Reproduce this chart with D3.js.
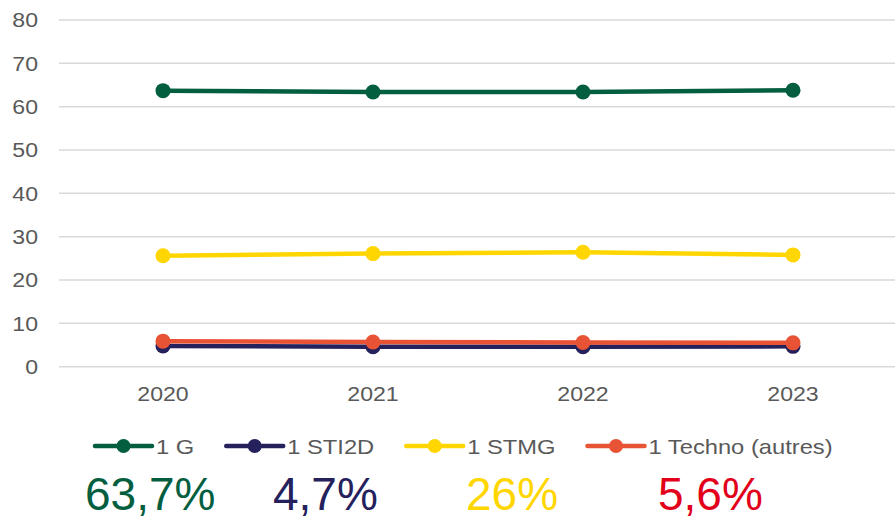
<!DOCTYPE html>
<html>
<head>
<meta charset="utf-8">
<script src="https://cdn.jsdelivr.net/npm/d3@7/dist/d3.min.js"></script>
<style>
  html, body { margin: 0; padding: 0; background: #fff; }
  svg { display: block; font-family: "Liberation Sans", Arial, sans-serif; }
</style>
</head>
<body>
<svg id="chart" width="895" height="516"></svg>
<script>
// data
var years = ["2020", "2021", "2022", "2023"];
var seriesNames = ["1 G", "1 STI2D", "1 STMG", "1 Techno (autres)"];
var valuesG = [63.7, 63.4, 63.4, 63.8];
var valuesSTI2D = [4.8, 4.6, 4.6, 4.7];
var valuesSTMG = [25.6, 26.1, 26.4, 25.8];
var valuesTechno = [5.9, 5.7, 5.6, 5.5];
var yTicks = [0, 10, 20, 30, 40, 50, 60, 70, 80];
var bigLabels = ["63,7%", "4,7%", "26%", "5,6%"];

var lineColors = ["#035e3f", "#24215c", "#ffd600", "#e95335"];
var bigColors = ["#035e3f", "#24215c", "#ffd600", "#e2001a"];

var allValues = [valuesG, valuesSTI2D, valuesSTMG, valuesTechno];

var svg = d3.select("#chart");
var W = 895;
var plot = { left: 58, right: 898, top: 20, bottom: 366.7 };
var STRETCH = 1.1;   // small texts in the reference are a bit wider than plain Arial
var LEG_STRETCH = 1.13;

var x = d3.scaleBand()
	.domain(years)
	.range([plot.left, plot.right])
	.padding(0);

var y = d3.scaleLinear()
	.domain([0, 80])
	.range([plot.bottom, plot.top]);

var textGrey = "#595959";

// gridlines
svg.append("g")
	.selectAll("line")
	.data(yTicks)
	.join("line")
	.attr("x1", plot.left + 1)
	.attr("x2", W)
	.attr("y1", function(d) { return y(d); })
	.attr("y2", function(d) { return y(d); })
	.attr("stroke", "#d9d9d9")
	.attr("stroke-width", 1.5);

// y axis labels
var yAxis = d3.axisLeft(y).tickValues(yTicks).tickSize(0).tickPadding(0);
var gy = svg.append("g")
	.attr("transform", "translate(38,0)")
	.call(yAxis);
gy.select(".domain").remove();
gy.selectAll("text")
	.attr("fill", textGrey)
	.attr("transform", "scale(" + STRETCH + ",1)")
	.style("font-size", "21px")
	.style("font-family", "Liberation Sans, Arial, sans-serif");

// x axis labels
var xAxis = d3.axisBottom(x).tickSize(0).tickPadding(0);
var gx = svg.append("g")
	.attr("transform", "translate(0,386)")
	.call(xAxis);
gx.select(".domain").remove();
gx.selectAll(".tick text")
	.attr("fill", textGrey)
	.attr("transform", "scale(" + STRETCH + ",1)")
	.style("font-size", "21px")
	.style("font-family", "Liberation Sans, Arial, sans-serif");

var lineGen = d3.line()
	.x(function(d, i) { return x(years[i]) + x.bandwidth() / 2; })
	.y(function(d) { return y(d); });

// series, drawn in order so later ones sit on top
for (var s = 0; s < allValues.length; s++) {
	var g = svg.append("g");
	g.append("path")
		.datum(allValues[s])
		.attr("d", lineGen)
		.attr("fill", "none")
		.attr("stroke", lineColors[s])
		.attr("stroke-width", 4.5)
		.attr("stroke-linecap", "round");
	g.selectAll("circle")
		.data(allValues[s])
		.join("circle")
		.attr("cx", function(d, i) { return x(years[i]) + x.bandwidth() / 2; })
		.attr("cy", function(d) { return y(d); })
		.attr("r", 7.5)
		.attr("fill", lineColors[s]);
}

// legend
var legendY = 446;
var lx = 95;
for (var i = 0; i < seriesNames.length; i++) {
	var lg = svg.append("g");
	lg.append("line")
		.attr("x1", lx).attr("x2", lx + 57)
		.attr("y1", legendY).attr("y2", legendY)
		.attr("stroke", lineColors[i])
		.attr("stroke-width", 4.5)
		.attr("stroke-linecap", "round");
	lg.append("circle")
		.attr("cx", lx + 28.5).attr("cy", legendY)
		.attr("r", 7)
		.attr("fill", lineColors[i]);
	var t = lg.append("text")
		.attr("transform", "translate(" + (lx + 61) + "," + (legendY + 7.5) + ") scale(" + LEG_STRETCH + ",1)")
		.attr("fill", textGrey)
		.style("font-size", "21px")
		.text(seriesNames[i]);
	lx = lx + 61 + t.node().getComputedTextLength() * LEG_STRETCH + 32;
}

// big percentage labels
var bigX = [85, 273, 466, 658];
svg.append("g")
	.selectAll("text")
	.data(bigLabels)
	.join("text")
	.attr("x", function(d, i) { return bigX[i]; })
	.attr("y", 510)
	.attr("fill", function(d, i) { return bigColors[i]; })
	.style("font-size", "46px")
	.text(function(d) { return d; });
</script>
</body>
</html>
